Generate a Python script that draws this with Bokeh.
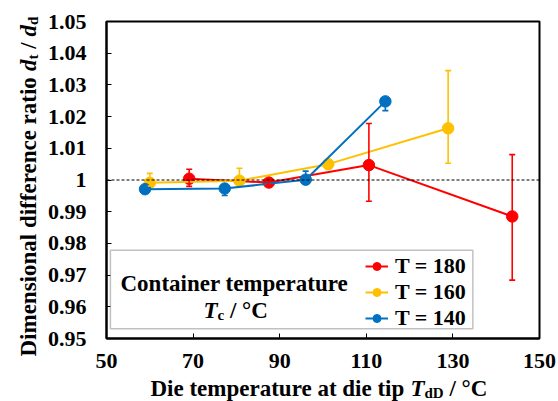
import numpy as np
from bokeh.plotting import figure
from bokeh.layouts import row, column
from bokeh.models import (Range1d, FixedTicker, Whisker, TeeHead, ColumnDataSource,
                          Span, BoxAnnotation, Label, Legend, LegendItem)
from bokeh.embed import file_html
from bokeh.resources import INLINE

# ---------------- data ----------------
x_180 = [69.1, 87.5, 110.6, 143.7]
y_180 = [1.0004, 0.9992, 1.0047, 0.9885]
err_up_180 = [0.0030, 0.0008, 0.0131, 0.0195]
err_lo_180 = [0.0024, 0.0008, 0.0114, 0.0201]

x_160 = [60.0, 80.7, 101.2, 128.9]
y_160 = [0.9991, 0.9998, 1.0050, 1.0163]
err_up_160 = [0.0030, 0.0039, 0.0005, 0.0182]
err_lo_160 = [0.0010, 0.0010, 0.0005, 0.0110]

x_140 = [58.9, 77.3, 96.0, 114.4]
y_140 = [0.9971, 0.9973, 1.0001, 1.0248]
err_up_140 = [0.0010, 0.0010, 0.0027, 0.0010]
err_lo_140 = [0.0010, 0.0022, 0.0010, 0.0029]

series_labels = ["T = 180", "T = 160", "T = 140"]
x_ticks = [50, 70, 90, 110, 130, 150]
x_tick_labels = ["50", "70", "90", "110", "130", "150"]
y_ticks = [0.95, 0.96, 0.97, 0.98, 0.99, 1.0, 1.01, 1.02, 1.03, 1.04, 1.05]
y_tick_labels = ["0.95", "0.96", "0.97", "0.98", "0.99", "1", "1.01", "1.02", "1.03", "1.04", "1.05"]
legend_title_1 = "Container temperature"

# ---------------- geometry ----------------
FONT = "Liberation Serif"
W, H = 558, 401
LEFT_W = 44          # strip with the y-axis title
BOT_H = 23           # strip with the x-axis title
MW, MH = W - LEFT_W, H - BOT_H
FL, FR, FT = 104 - LEFT_W, 19, 21
FB = MH - 338

p = figure(width=MW, height=MH, output_backend="svg", toolbar_location=None, title=None,
           x_range=Range1d(50, 150), y_range=Range1d(0.95, 1.05),
           min_border_left=FL, min_border_right=FR, min_border_top=FT, min_border_bottom=FB)
p.frame_align = False
p.background_fill_color = "white"
p.border_fill_color = "white"
p.outline_line_color = "black"
p.outline_line_width = 2
p.xgrid.visible = False
p.ygrid.visible = False

for ax in (p.xaxis[0], p.yaxis[0]):
    ax.axis_line_color = "black"
    ax.axis_line_width = 2
    ax.major_tick_in = 5
    ax.major_tick_out = 0
    ax.major_tick_line_color = "black"
    ax.major_tick_line_width = 1
    ax.minor_tick_line_color = None
    ax.major_label_text_font = FONT
    ax.major_label_text_font_style = "bold"
    ax.major_label_text_font_size = "22px"
    ax.major_label_text_color = "black"

p.xaxis.ticker = FixedTicker(ticks=x_ticks)
p.xaxis.major_label_overrides = {t: l for t, l in zip(x_ticks, x_tick_labels)}
p.xaxis.major_label_standoff = 15
p.yaxis.ticker = FixedTicker(ticks=y_ticks)
p.yaxis.major_label_overrides = {t: l for t, l in zip(y_ticks, y_tick_labels)}
p.yaxis.major_label_standoff = 20

p.add_layout(Span(location=1.0, dimension="width", line_color="black",
                  line_width=1, line_dash="3 2"))

colors = ["#FF0000", "#FFC000", "#0070C0"]
series = [(x_180, y_180, err_up_180, err_lo_180),
          (x_160, y_160, err_up_160, err_lo_160),
          (x_140, y_140, err_up_140, err_lo_140)]

items = []
for (xs, ys, eu, el), c, lab in zip(series, colors, series_labels):
    src = ColumnDataSource(dict(x=xs, y=ys,
                                upper=[a + b for a, b in zip(ys, eu)],
                                lower=[a - b for a, b in zip(ys, el)]))
    lr = p.line("x", "y", source=src, line_color=c, line_width=2)
    sr = p.scatter("x", "y", source=src, size=7, fill_color=c, line_color=c)
    p.add_layout(Whisker(base="x", upper="upper", lower="lower", source=src,
                         line_color=c, line_width=1.6, level="glyph",
                         upper_head=TeeHead(size=6, line_color=c, line_width=1.6),
                         lower_head=TeeHead(size=6, line_color=c, line_width=1.6)))
    p.scatter("x", "y", source=src, size=11.5, fill_color=c, line_color=c)
    items.append(LegendItem(label=lab, renderers=[lr, sr]))

# legend frame box
p.add_layout(BoxAnnotation(left=50.9, right=134.6, bottom=0.9531, top=0.9778,
                           fill_color="white", fill_alpha=1.0,
                           line_color="#333333", line_width=1.5))

legend = Legend(items=items, location=(259, 7), orientation="vertical",
                padding=0, margin=0, spacing=0, glyph_width=23, glyph_height=20,
                label_height=20, label_standoff=7,
                label_text_font=FONT, label_text_font_style="bold",
                label_text_font_size="22px", label_text_color="black",
                border_line_alpha=0, background_fill_alpha=0)
p.add_layout(legend)


def text_fig(w, h):
    f = figure(width=w, height=h, output_backend="svg", toolbar_location=None, title=None,
               x_range=Range1d(0, w), y_range=Range1d(0, h),
               x_axis_location=None, y_axis_location=None,
               min_border=0, min_border_left=0, min_border_right=0,
               min_border_top=0, min_border_bottom=0)
    f.frame_align = False
    f.outline_line_color = None
    f.background_fill_color = "white"
    f.border_fill_color = "white"
    f.xgrid.visible = False
    f.ygrid.visible = False
    return f


ylab = text_fig(LEFT_W, MH)
xlab = text_fig(W, BOT_H)

# ---------------- rich texts ----------------
W_B = {" ": 250, "D": 722, "i": 278, "m": 833, "e": 444, "n": 556, "s": 389, "o": 500,
       "a": 500, "l": 278, "d": 556, "f": 333, "r": 444, "c": 444, "t": 333, "p": 556,
       "u": 556, "/": 278, "°": 400, "C": 722, "T": 667}
W_BI = {"T": 611, "d": 500, " ": 250}


def adv(text, style, size):
    tbl = W_BI if "italic" in style else W_B
    return sum(tbl.get(ch, W_B.get(ch, 500)) for ch in text) * size / 1000.0


def rich(fig, to_xy, pieces, cx, cy, vertical=False):
    pos = 0.0
    for text, style, size, shift in pieces:
        lead = len(text) - len(text.lstrip(" "))
        pos += adv(" " * lead, style, size)
        shown = text.strip(" ")
        if vertical:
            sx, sy = to_xy(cx + shift, cy - pos)
            ang = np.pi / 2
        else:
            sx, sy = to_xy(cx + pos, cy + shift)
            ang = 0
        fig.add_layout(Label(x=sx, y=sy, x_units="screen", y_units="screen", text=shown,
                             angle=ang, text_font=FONT, text_font_style=style,
                             text_font_size=f"{size}px", text_color="black",
                             text_baseline="alphabetic", text_align="left"))
        pos += adv(text.lstrip(" "), style, size)


# page pixel (top-left origin) -> screen coords relative to each frame's bottom-left
ylab_xy = lambda cx, cy: (cx, MH - cy)
xlab_xy = lambda cx, cy: (cx, H - cy)
main_xy = lambda cx, cy: (cx - 104, 338 - cy)

# the bottom strip renders ~8 px lower than its nominal box, so aim 8 px higher
rich(xlab, xlab_xy, [("Die temperature at die tip ", "bold", 23, 0), ("T", "bold italic", 23, 0),
                     ("dD", "bold", 15, 4), (" / °C", "bold", 23, 0)], 150, 388)
rich(ylab, ylab_xy, [("Dimensional difference ratio ", "bold", 23, 0), ("d", "bold italic", 23, 0),
                     ("t", "bold", 15, 4), (" / ", "bold", 23, 0), ("d", "bold italic", 23, 0),
                     ("d", "bold", 15, 4)], 28, 356, vertical=True)
cw = adv(legend_title_1, "bold", 23)
rich(p, main_xy, [(legend_title_1, "bold", 23, 0)], 232 - cw / 2, 283)
rich(p, main_xy, [("T", "bold italic", 23, 0), ("c", "bold", 15, 4), (" / °C", "bold", 23, 0)],
     201, 310)

layout = column(row(ylab, p, spacing=0), xlab, spacing=0)
open("out.html", "w").write(file_html(layout, INLINE))
